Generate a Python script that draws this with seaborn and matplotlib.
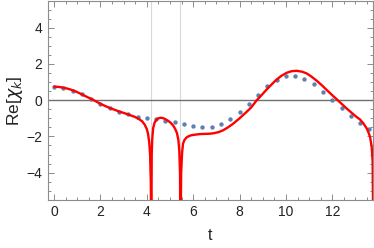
import matplotlib
matplotlib.use("Agg")
import matplotlib.pyplot as plt
from matplotlib.ticker import MultipleLocator
import pandas as pd
import seaborn as sns

# sampled points (blue dots)
t_dots = [0.0, 0.4, 0.8, 1.2, 1.6, 2.0, 2.4, 2.8, 3.2, 3.6, 4.0, 4.4, 4.8,
          5.2, 5.6, 6.0, 6.4, 6.8, 7.2, 7.6, 8.0, 8.4, 8.8, 9.2, 9.6, 10.0,
          10.4, 10.8, 11.2, 11.6, 12.0, 12.4, 12.8, 13.2, 13.6]
re_dots = [0.72, 0.68, 0.53, 0.33, 0.09, -0.19, -0.44, -0.63, -0.78, -0.91,
           -0.97, -1.05, -1.13, -1.22, -1.33, -1.43, -1.48, -1.46, -1.33,
           -1.05, -0.67, -0.19, 0.31, 0.76, 1.09, 1.31, 1.33, 1.18, 0.89,
           0.46, 0.0, -0.44, -0.87, -1.24, -1.59]

# red curve (dips go far below the frame)
t_curve = [0.0, 0.2, 0.45, 0.7, 0.9, 1.1, 1.32, 1.55, 1.75, 2.0, 2.2, 2.4,
           2.61, 2.8, 3.04, 3.26, 3.48, 3.69, 3.8, 3.91, 4.0, 4.05, 4.1,
           4.14, 4.17, 4.19, 4.21, 4.23, 4.27, 4.33, 4.41, 4.5, 4.6, 4.7,
           4.8, 4.92, 5.03, 5.13, 5.22, 5.3, 5.36, 5.4, 5.43, 5.45, 5.48,
           5.52, 5.56, 5.62, 5.71, 5.8, 5.93, 6.1, 6.29, 6.5, 6.72, 6.9,
           7.1, 7.29, 7.5, 7.72, 8.0, 8.3, 8.5, 8.73, 8.95, 9.17, 9.4, 9.6,
           9.8, 10.03, 10.25, 10.46, 10.7, 10.9, 11.1, 11.33, 11.55, 11.76,
           12.0, 12.19, 12.4, 12.62, 12.8, 13.05, 13.2, 13.35, 13.49, 13.58,
           13.63, 13.7, 13.74, 13.77]
re_curve = [0.75, 0.73, 0.68, 0.59, 0.5, 0.38, 0.24, 0.1, -0.03, -0.2, -0.32,
            -0.43, -0.53, -0.62, -0.72, -0.82, -0.92, -1.07, -1.17, -1.36,
            -1.6, -1.85, -2.3, -3.0, -4.5, -8.0, -3.0, -2.2, -1.55, -1.25,
            -1.08, -1.0, -0.97, -0.99, -1.05, -1.14, -1.25, -1.39, -1.58,
            -1.82, -2.2, -2.8, -4.0, -8.0, -4.0, -2.9, -2.4, -2.2, -2.06,
            -1.99, -1.93, -1.9, -1.87, -1.86, -1.85, -1.82, -1.76, -1.66,
            -1.5, -1.3, -1.0, -0.65, -0.4, -0.02, 0.28, 0.59, 0.89, 1.14,
            1.34, 1.51, 1.6, 1.62, 1.57, 1.47, 1.3, 1.07, 0.82, 0.56, 0.27,
            0.05, -0.2, -0.46, -0.66, -0.93, -1.07, -1.3, -1.57, -1.85,
            -2.04, -2.6, -3.4, -8.0]

grid_t = [4.2, 5.45]

dots = pd.DataFrame({"t": t_dots, "re": re_dots})
curve = pd.DataFrame({"t": t_curve, "re": re_curve})

sns.set_style("ticks")
plt.rcParams["font.family"] = ["Liberation Sans", "DejaVu Sans"]

fig, ax = plt.subplots(figsize=(3.74, 2.48), dpi=100)
fig.subplots_adjust(left=0.128, right=0.997, bottom=0.194, top=0.996)

for g in grid_t:
    ax.axvline(g, color="#d9d9d9", lw=0.8, zorder=0)
ax.axhline(0, color="#707070", lw=1.0, zorder=1)

sns.scatterplot(data=dots, x="t", y="re", ax=ax, color="#5e81b5",
                s=10, linewidth=0, zorder=3)
sns.lineplot(data=curve, x="t", y="re", ax=ax, color="red", lw=1.7,
             sort=False, zorder=4)

ax.set_xlim(-0.27, 13.75)
ax.set_ylim(-5.5, 5.47)
ax.xaxis.set_major_locator(MultipleLocator(2))
ax.xaxis.set_minor_locator(MultipleLocator(0.5))
ax.yaxis.set_major_locator(MultipleLocator(2))
ax.yaxis.set_minor_locator(MultipleLocator(0.5))
ax.tick_params(which="both", direction="in", top=True, right=True,
               color="#8c8c8c", width=0.7, labelsize=10, labelcolor="#222222")
ax.tick_params(which="major", length=4, pad=4)
ax.tick_params(which="minor", length=2)
for sp in ax.spines.values():
    sp.set_color("#8c8c8c")
    sp.set_linewidth(0.8)

ax.set_xlabel("t", fontsize=11.5, color="#222222", labelpad=6)
ax.set_ylabel(r"Re[$\chi_k$]", fontsize=12.5, color="#222222", labelpad=1)

fig.savefig("out.png", dpi=100)
